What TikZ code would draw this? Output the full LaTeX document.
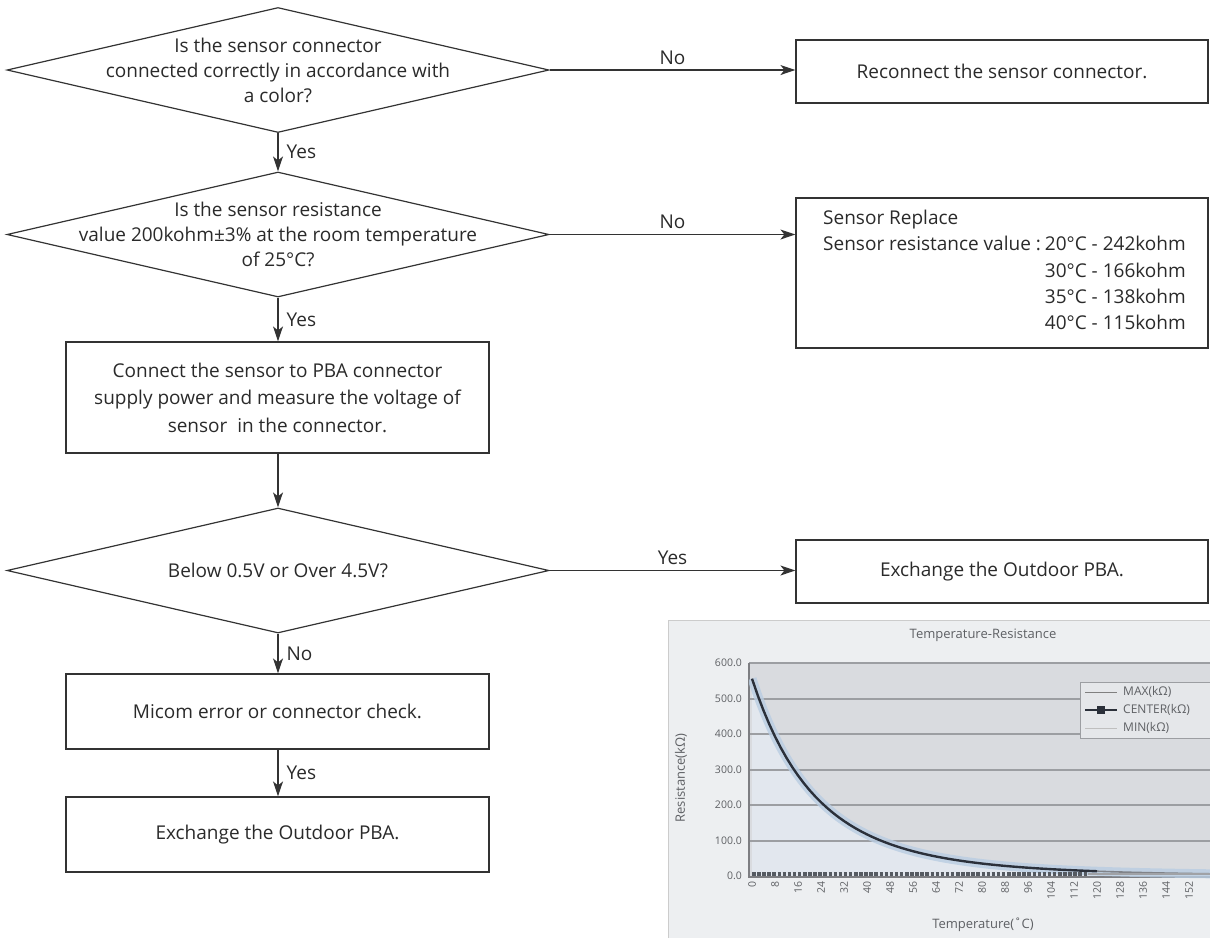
\documentclass[tikz,border=0pt]{standalone}
\usepackage{fontspec}
\setmainfont{Open Sans}
\usetikzlibrary{shapes.geometric,arrows.meta,calc}
\definecolor{ln}{HTML}{333333}
\definecolor{txt}{HTML}{2a2a2a}
\definecolor{chartbg}{HTML}{EDEFF1}
\definecolor{plotbg}{HTML}{D9DBDF}
\definecolor{gridc}{HTML}{9C9EA2}
\definecolor{underc}{HTML}{E2E7EE}
\definecolor{haze}{HTML}{B9CDE2}
\definecolor{curvec}{HTML}{2B303A}
\definecolor{chtxt}{HTML}{5E6064}
\begin{document}
\begin{tikzpicture}[x=1pt,y=-1pt,
  base/.style={draw=ln, line width=1.2pt, text=txt},
  dia/.style={base, diamond, inner sep=0pt, minimum width=542pt, minimum height=125pt},
  box/.style={base, rectangle, inner sep=0pt, minimum width=423pt, align=center, font=\fontsize{19}{27.5}\selectfont},
  rbox/.style={base, rectangle, inner sep=0pt, minimum width=412pt, align=center, font=\fontsize{19}{27.5}\selectfont},
  dtext/.style={align=center, text=txt, inner sep=0pt, font=\fontsize{19}{25}\selectfont},
  arr/.style={-{Stealth[length=15pt,width=10pt,inset=4pt]}, draw=ln, line width=1.3pt},
  lbl/.style={text=txt, font=\fontsize{19}{22}\selectfont, inner sep=2pt},
  ctick/.style={text=chtxt, font=\fontsize{10.5}{11}\selectfont, inner sep=0pt},
  clegend/.style={text=chtxt, font=\fontsize{12}{13}\selectfont, inner sep=0pt},
  ctitle/.style={text=chtxt, font=\fontsize{13}{14}\selectfont, inner sep=0pt}]
\useasboundingbox (0,0) rectangle (1210,938);

% ---------------- flowchart ----------------
\node[dia] (d1) at (278,70) {};
\node[dtext] (d1t) at (d1.center) {Is the sensor connector\\connected correctly in accordance with\\a color?};
\node[dia] (d2) at (278,234.5) {};
\node[dtext] (d2t) at (d2.center) {Is the sensor resistance\\value 200kohm±3\% at the room temperature\\of 25°C?};
\node[box, minimum height=111pt] (b3) at (277.5,397.5) {Connect the sensor to PBA connector\\supply power and measure the voltage of\\sensor\ \ in the connector.};
\node[dia] (d3) at (278,570.5) {};
\node[dtext] (d3t) at (d3.center) {Below 0.5V or Over 4.5V?};
\node[box, minimum height=75pt] (b4) at (277.5,711.5) {Micom error or connector check.};
\node[box, minimum height=75pt] (b5) at (277.5,834.5) {Exchange the Outdoor PBA.};

\node[rbox, minimum height=63pt] (r1) at (1002,71.5) {Reconnect the sensor connector.};
\node[rbox, minimum height=150pt] (r2) at (1002,273) {};
\node[anchor=north west, inner sep=0pt, text=txt, font=\fontsize{19}{26.3}\selectfont] (r2t) at (823,206)
  {\begin{tabular}{@{}l@{\hspace{4pt}}l@{}}\multicolumn{2}{@{}l@{}}{Sensor Replace}\\
   Sensor resistance value : & 20°C - 242kohm\\
   & 30°C - 166kohm\\
   & 35°C - 138kohm\\
   & 40°C - 115kohm\end{tabular}};
\node[rbox, minimum height=63pt] (r3) at (1002,571.5) {Exchange the Outdoor PBA.};

\draw[arr] (d1.south) -- node[lbl, right=6pt, pos=0.5] (l1) {Yes} (d2.north);
\draw[arr] (d2.south) -- node[lbl, right=6pt, pos=0.5] (l2) {Yes} (d2.south |- b3.north);
\draw[arr] (d2.south |- b3.south) -- (d3.north);
\draw[arr] (d3.south) -- node[lbl, right=6pt, pos=0.5] (l3) {No} (d3.south |- b4.north);
\draw[arr] (d3.south |- b4.south) -- node[lbl, right=6pt, pos=0.5] (l4) {Yes} (d3.south |- b5.north);

\draw[arr] (d1.east) -- node[lbl, above=3pt, pos=0.5] (l5) {No} (d1.east -| r1.west);
\draw[arr] (d2.east) -- node[lbl, above=3pt, pos=0.5] (l6) {No} (d2.east -| r2.west);
\draw[arr] (d3.east) -- node[lbl, above=3pt, pos=0.5] (l7) {Yes} (d3.east -| r3.west);

% ---------------- chart ----------------
\fill[chartbg] (668,620) rectangle (1210,938);
\draw[gray!40, line width=0.8pt] (668,938) -- (668,620) -- (1210,620);
\fill[plotbg] (749,663) rectangle (1210,876);
\begin{scope}
\clip (749,663) rectangle (1210,876);
\fill[underc] plot[domain=0:160, samples=81] ({752+2.875*\x},{876-71*exp(11.169*(25-\x)/(\x+273.15))}) -- (1212,876) -- (752,876) -- cycle;
\end{scope}
\foreach \v in {1,...,6}
  \draw[gridc, line width=2pt] (749,{876-35.5*\v}) -- (1210,{876-35.5*\v});
\foreach \v/\t in {0/0.0,1/100.0,2/200.0,3/300.0,4/400.0,5/500.0,6/600.0}
  \node[ctick, anchor=east] (yl\v) at (742,{876-35.5*\v}) {\t};
\draw[gridc!80!black, line width=2pt] (749,663) -- (749,877) -- (1210,877);
% haze + center curve
\begin{scope}
\clip (749,655) rectangle (1210,880);
\draw[haze, line width=9pt, opacity=0.8] plot[domain=0:160, samples=81, smooth] ({752+2.875*\x},{876-71*exp(11.169*(25-\x)/(\x+273.15))});
\draw[curvec, line width=2.4pt] plot[domain=0:120, samples=61, mark=square*, mark size=2.8pt, mark options={fill=curvec}] ({752+2.875*\x},{876-71*exp(11.169*(25-\x)/(\x+273.15))});
\draw[curvec!60, line width=1.6pt] plot[domain=120:160, samples=21, smooth] ({752+2.875*\x},{876-71*exp(11.169*(25-\x)/(\x+273.15))});
\draw[curvec!80, line width=3.5pt, dash pattern=on 3.5pt off 1.6pt] (752,874) -- (1088,874);
\draw[curvec!45, line width=2pt] (1088,874) -- (1210,874);
\end{scope}
% x tick labels
\foreach \i in {0,...,19}{
  \pgfmathtruncatemacro{\tv}{8*\i}
  \node[ctick, rotate=90, anchor=east] (xl\i) at ({752+23*\i},881) {\tv};
}
% titles
\node[ctitle] (ctit) at (983,635) {Temperature-Resistance};
\node[ctitle, rotate=90] (cyl) at (681,778) {Resistance(kΩ)};
\node[ctitle] (cxl) at (983,925) {Temperature(˚C)};
% legend
\node[draw=gridc, fill=chartbg!60!plotbg, line width=0.8pt, minimum width=140pt, minimum height=56pt, anchor=north west, inner sep=0pt] (leg) at (1080,682) {};
\draw[gray, line width=1pt] (1085,692) -- (1117,692);
\draw[curvec, line width=1.8pt] (1085,710) -- (1117,710);
\fill[curvec] (1097,706) rectangle (1105,714);
\draw[gray!50, line width=1pt] (1085,728) -- (1117,728);
\node[clegend, anchor=west] (lg1) at (1123,692) {MAX(kΩ)};
\node[clegend, anchor=west] (lg2) at (1123,710) {CENTER(kΩ)};
\node[clegend, anchor=west] (lg3) at (1123,728) {MIN(kΩ)};
\end{tikzpicture}
\end{document}
